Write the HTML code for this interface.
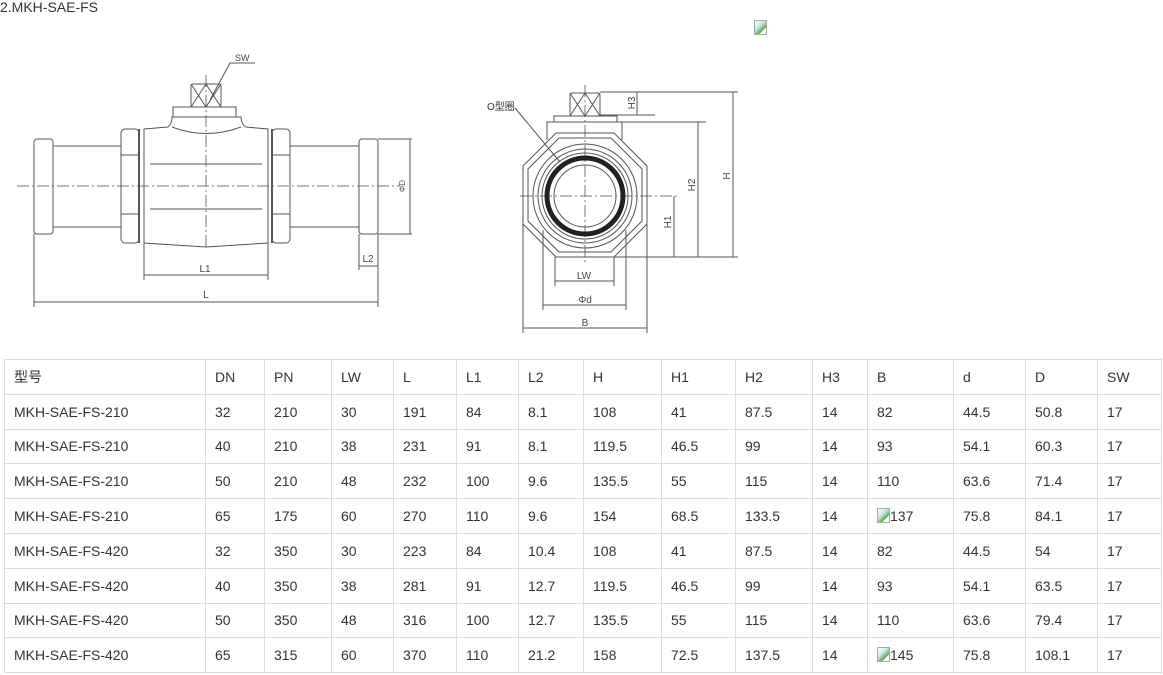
<!DOCTYPE html>
<html><head><meta charset="utf-8"><style>
body{margin:0;width:1163px;height:675px;background:#fff;position:relative;overflow:hidden;font-family:"Liberation Sans","Noto Sans CJK SC",sans-serif;color:#333}
.t{position:absolute;left:0;top:-1px;font-size:14px;color:#333}
table{position:absolute;left:4px;top:359px;border-collapse:collapse;font-size:14px;color:#333}
td{border:1px solid #dcdcdc;height:34.8px;padding:0 0 0 9px;box-sizing:border-box;white-space:nowrap}
.bi{display:inline-block;width:13px;height:15px;vertical-align:-2px;background:linear-gradient(135deg,#fff 0,#cfe0ee 40%,#5aa84a 70%,#fff 75%);border:1px solid #aaa;box-sizing:border-box}
</style></head><body>
<div class="t">2.MKH-SAE-FS</div>
<div style="position:absolute;left:754px;top:20px" class="bi"></div>
<svg width="1163" height="355" style="position:absolute;left:0;top:0" fill="none" stroke="#555" stroke-width="1" font-family="Liberation Sans,sans-serif">
<g>
<line x1="17" y1="186" x2="400" y2="186" stroke-dasharray="12,3,2,3" stroke="#777"/>
<line x1="206" y1="75" x2="206" y2="250" stroke-dasharray="12,3,2,3" stroke="#777"/>
<rect x="34" y="139" width="19" height="95" rx="3"/>
<rect x="53" y="146" width="68" height="81"/>
<rect x="121" y="129" width="18" height="114" rx="4"/>
<line x1="121" y1="155" x2="139" y2="155"/><line x1="121" y1="214" x2="139" y2="214"/>
<line x1="139" y1="129" x2="139" y2="243" stroke-width="2"/>
<path d="M144 129 L168 127 Q172 124 172 117 L241 117 Q241 124 246 127 L268 129 L268 243 L206 247 L144 243 Z"/>
<path d="M172 127 Q206 140 241 127"/>
<line x1="150" y1="164" x2="262" y2="164"/><line x1="150" y1="209" x2="262" y2="209"/>
<line x1="272" y1="129" x2="272" y2="243" stroke-width="2"/>
<rect x="272" y="129" width="18" height="114" rx="4"/>
<line x1="272" y1="155" x2="290" y2="155"/><line x1="272" y1="214" x2="290" y2="214"/>
<rect x="290" y="146" width="69" height="81"/>
<rect x="359" y="139" width="19" height="95" rx="3"/>
<line x1="378" y1="139" x2="412" y2="139"/><line x1="378" y1="234" x2="412" y2="234"/>
<line x1="410" y1="139" x2="410" y2="234"/>
<text x="405" y="186" font-size="8" fill="#555" stroke="none" transform="rotate(-90 405 186)" text-anchor="middle">ΦD</text>
<rect x="173" y="107" width="63" height="10"/>
<rect x="191" y="84" width="30" height="23" rx="2"/>
<path d="M191 84L206 107M206 84L191 107M206 84L221 107M221 84L206 107"/>
<path d="M210 100L230 63L255 63"/>
<text x="235" y="61" font-size="9" fill="#444" stroke="none">SW</text>
<line x1="144" y1="243" x2="144" y2="280"/><line x1="268" y1="243" x2="268" y2="280"/>
<line x1="144" y1="275" x2="268" y2="275"/>
<text x="205" y="272" font-size="10" fill="#444" stroke="none" text-anchor="middle">L1</text>
<line x1="34" y1="234" x2="34" y2="307"/><line x1="378" y1="234" x2="378" y2="307"/>
<line x1="359" y1="234" x2="359" y2="270"/>
<line x1="359" y1="266" x2="378" y2="266"/>
<text x="368" y="262" font-size="10" fill="#444" stroke="none" text-anchor="middle">L2</text>
<line x1="34" y1="302" x2="378" y2="302"/>
<text x="206" y="298" font-size="10" fill="#444" stroke="none" text-anchor="middle">L</text>
</g>
<g>
<line x1="520" y1="196" x2="680" y2="196" stroke-dasharray="12,3,2,3" stroke="#777"/>
<line x1="585" y1="85" x2="585" y2="265" stroke-dasharray="12,3,2,3" stroke="#777"/>
<polygon points="556,133 614,133 647,166 647,224 614,257 556,257 523,224 523,166"/>
<polygon points="559,138 611,138 642,169 642,221 611,252 559,252 528,221 528,169"/>
<circle cx="585" cy="196" r="52"/><circle cx="585" cy="196" r="47"/><circle cx="585" cy="196" r="43"/>
<circle cx="585" cy="196" r="38" stroke="#222" stroke-width="5"/>
<circle cx="585" cy="196" r="31"/>
<path d="M547 140L547 122L622 122L622 140"/>
<rect x="554" y="116" width="63" height="6"/>
<rect x="570" y="93" width="30" height="23" rx="2"/>
<path d="M570 93L585 116M585 93L570 116M585 93L600 116M600 93L585 116"/>
<path d="M515 108L560 162"/>
<text x="487" y="110" font-size="10" fill="#333" stroke="none">O型圈</text>
<line x1="600" y1="92" x2="738" y2="92"/><line x1="600" y1="115" x2="655" y2="115"/>
<line x1="637" y1="92" x2="637" y2="115"/>
<text x="638" y="103" font-size="10" fill="#444" stroke="none" transform="rotate(-90 638 103)" text-anchor="middle" dy="-3">H3</text>
<line x1="622" y1="122" x2="706" y2="122"/>
<line x1="698" y1="122" x2="698" y2="257"/>
<text x="698" y="185" font-size="10" fill="#444" stroke="none" transform="rotate(-90 698 185)" text-anchor="middle" dy="-3">H2</text>
<line x1="733" y1="92" x2="733" y2="257"/>
<text x="733" y="176" font-size="10" fill="#444" stroke="none" transform="rotate(-90 733 176)" text-anchor="middle" dy="-3">H</text>
<line x1="555" y1="257" x2="738" y2="257"/>
<line x1="674" y1="196" x2="674" y2="257"/>
<text x="674" y="222" font-size="10" fill="#444" stroke="none" transform="rotate(-90 674 222)" text-anchor="middle" dy="-3">H1</text>
<line x1="555" y1="257" x2="555" y2="286"/><line x1="614" y1="257" x2="614" y2="286"/>
<line x1="555" y1="281" x2="614" y2="281"/>
<text x="584" y="279" font-size="10" fill="#444" stroke="none" text-anchor="middle">LW</text>
<line x1="543" y1="230" x2="543" y2="310"/><line x1="626" y1="230" x2="626" y2="310"/>
<line x1="543" y1="305" x2="626" y2="305"/>
<text x="585" y="303" font-size="10" fill="#444" stroke="none" text-anchor="middle">Φd</text>
<line x1="523" y1="224" x2="523" y2="333"/><line x1="647" y1="224" x2="647" y2="333"/>
<line x1="523" y1="328" x2="647" y2="328"/>
<text x="585" y="326" font-size="10" fill="#444" stroke="none" text-anchor="middle">B</text>
</g>
</svg>
<table>
<colgroup><col style="width:201px"><col style="width:59px"><col style="width:67px"><col style="width:62px"><col style="width:63px"><col style="width:62px"><col style="width:65px"><col style="width:78px"><col style="width:74px"><col style="width:77px"><col style="width:55px"><col style="width:86px"><col style="width:72px"><col style="width:72px"><col style="width:64px"></colgroup>
<tr><td>型号</td><td>DN</td><td>PN</td><td>LW</td><td>L</td><td>L1</td><td>L2</td><td>H</td><td>H1</td><td>H2</td><td>H3</td><td>B</td><td>d</td><td>D</td><td>SW</td></tr>
<tr><td>MKH-SAE-FS-210</td><td>32</td><td>210</td><td>30</td><td>191</td><td>84</td><td>8.1</td><td>108</td><td>41</td><td>87.5</td><td>14</td><td>82</td><td>44.5</td><td>50.8</td><td>17</td></tr>
<tr><td>MKH-SAE-FS-210</td><td>40</td><td>210</td><td>38</td><td>231</td><td>91</td><td>8.1</td><td>119.5</td><td>46.5</td><td>99</td><td>14</td><td>93</td><td>54.1</td><td>60.3</td><td>17</td></tr>
<tr><td>MKH-SAE-FS-210</td><td>50</td><td>210</td><td>48</td><td>232</td><td>100</td><td>9.6</td><td>135.5</td><td>55</td><td>115</td><td>14</td><td>110</td><td>63.6</td><td>71.4</td><td>17</td></tr>
<tr><td>MKH-SAE-FS-210</td><td>65</td><td>175</td><td>60</td><td>270</td><td>110</td><td>9.6</td><td>154</td><td>68.5</td><td>133.5</td><td>14</td><td><span class="bi"></span>137</td><td>75.8</td><td>84.1</td><td>17</td></tr>
<tr><td>MKH-SAE-FS-420</td><td>32</td><td>350</td><td>30</td><td>223</td><td>84</td><td>10.4</td><td>108</td><td>41</td><td>87.5</td><td>14</td><td>82</td><td>44.5</td><td>54</td><td>17</td></tr>
<tr><td>MKH-SAE-FS-420</td><td>40</td><td>350</td><td>38</td><td>281</td><td>91</td><td>12.7</td><td>119.5</td><td>46.5</td><td>99</td><td>14</td><td>93</td><td>54.1</td><td>63.5</td><td>17</td></tr>
<tr><td>MKH-SAE-FS-420</td><td>50</td><td>350</td><td>48</td><td>316</td><td>100</td><td>12.7</td><td>135.5</td><td>55</td><td>115</td><td>14</td><td>110</td><td>63.6</td><td>79.4</td><td>17</td></tr>
<tr><td>MKH-SAE-FS-420</td><td>65</td><td>315</td><td>60</td><td>370</td><td>110</td><td>21.2</td><td>158</td><td>72.5</td><td>137.5</td><td>14</td><td><span class="bi"></span>145</td><td>75.8</td><td>108.1</td><td>17</td></tr>
</table>
</body></html>
